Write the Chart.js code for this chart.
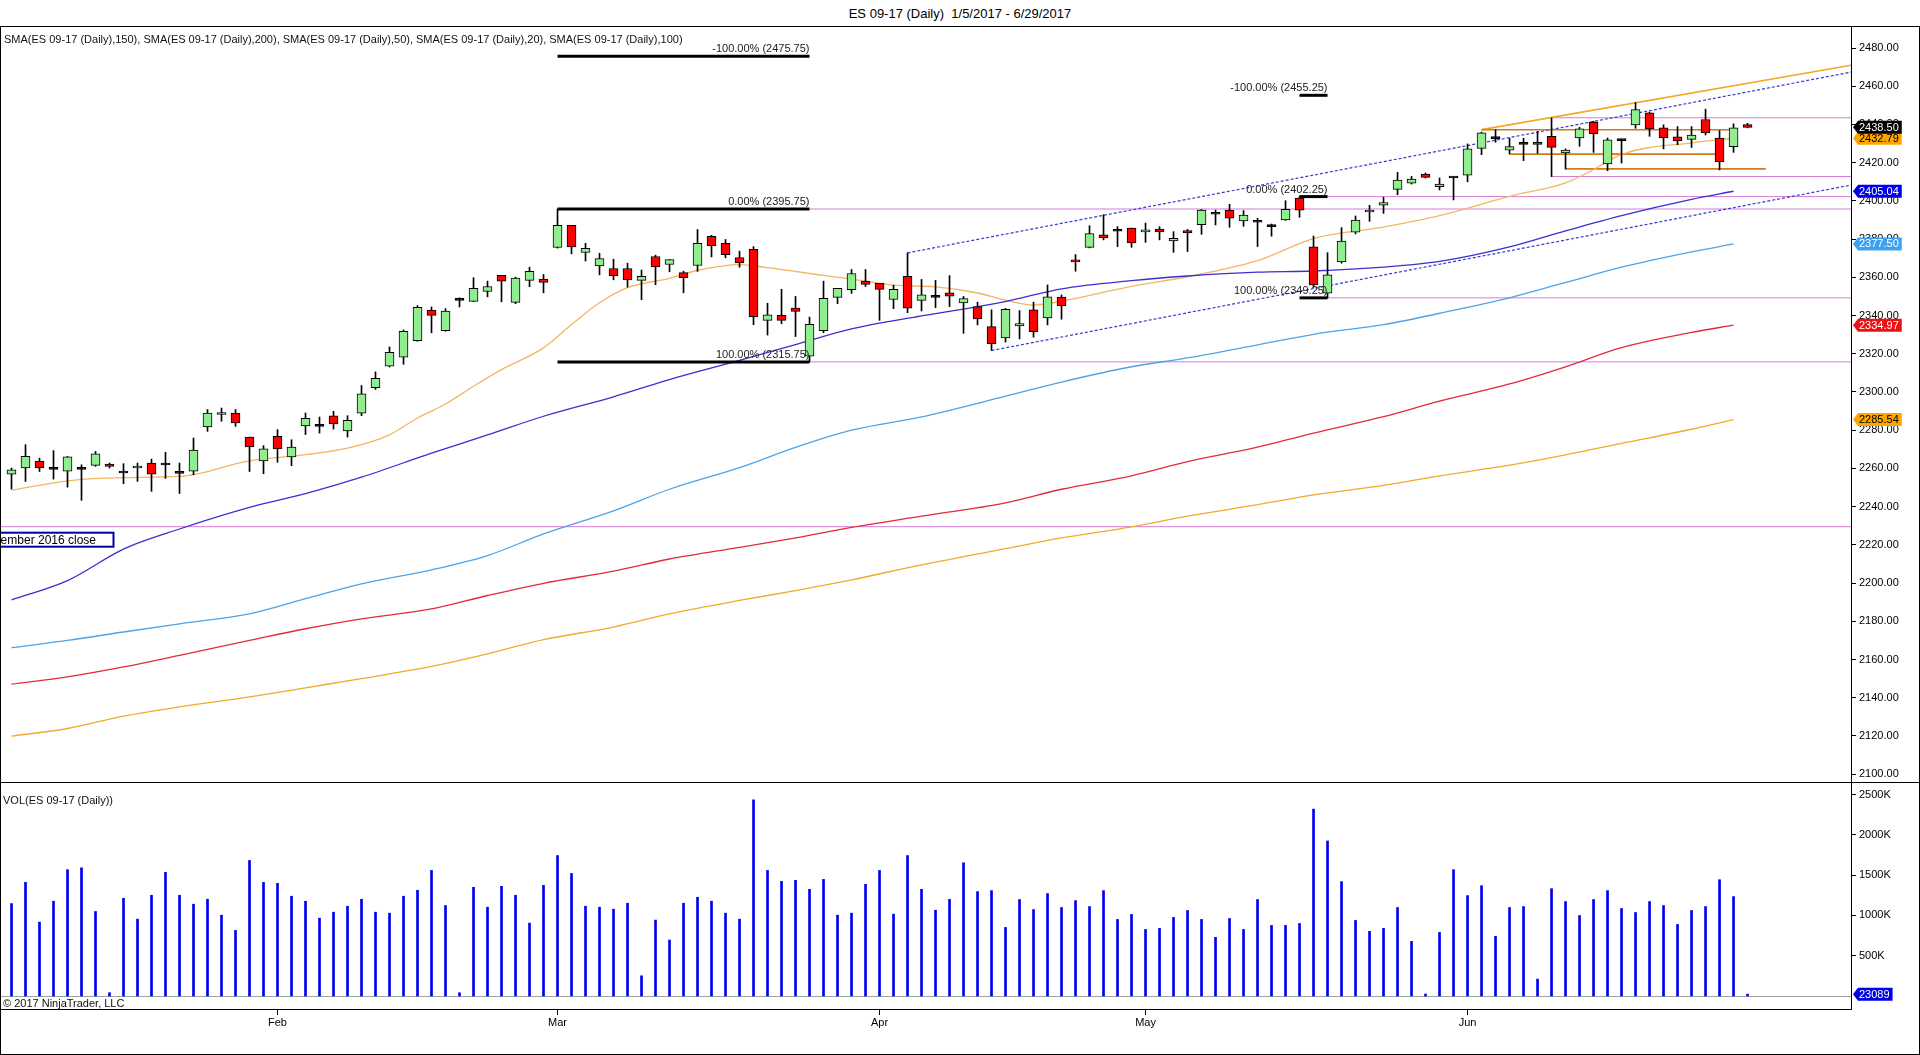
<!DOCTYPE html>
<html>
<head>
<meta charset="utf-8">
<script src="https://cdn.jsdelivr.net/npm/chart.js@4.4.1/dist/chart.umd.min.js"></script>
<style>
html, body { margin: 0; padding: 0; background: #fff; }
body { width: 1920px; height: 1055px; overflow: hidden; position: relative;
       font-family: "Liberation Sans", Arial, sans-serif; color: #000; }
.abs { position: absolute; }
.txt { font-size: 11px; line-height: 13px; white-space: nowrap; color: #111; }
#title { left: 0; top: 6px; width: 1920px; text-align: center; font-size: 13px; line-height: 15px; }
#frame { left: 0; top: 26px; width: 1920px; height: 1029px; box-sizing: border-box;
         border: 1px solid #000; pointer-events: none; }
#sep { left: 0; top: 782px; width: 1920px; height: 1px; background: #000; }
</style>
</head>
<body>
<div id="title" class="abs">ES 09-17 (Daily)&nbsp; 1/5/2017 - 6/29/2017</div>
<div class="abs" style="left:0;top:27px"><canvas id="priceChart" width="1920" height="755"></canvas></div>
<div class="abs" style="left:0;top:783px"><canvas id="volChart" width="1920" height="271"></canvas></div>
<div id="frame" class="abs"></div>
<div id="sep" class="abs"></div>
<div class="abs txt" style="left:4px;top:33px">SMA(ES 09-17 (Daily),150), SMA(ES 09-17 (Daily),200), SMA(ES 09-17 (Daily),50), SMA(ES 09-17 (Daily),20), SMA(ES 09-17 (Daily),100)</div>
<div class="abs txt" style="left:3px;top:794px">VOL(ES 09-17 (Daily))</div>
<div class="abs txt" style="left:3px;top:997px">&copy; 2017 NinjaTrader, LLC</div>

<script>
// ---- daily bars, 1/5/2017 .. 6/29/2017 (bar index 0..124) ----
const opens = [
  2257.0, 2260.2, 2263.9, 2259.5, 2258.6, 2259.5, 2261.6, 2262.3, 2257.6, 2260.2,
  2262.8, 2261.8, 2257.4, 2258.6, 2281.7, 2288.2, 2289.0, 2276.4, 2263.9, 2276.8,
  2266.0, 2282.2, 2282.0, 2287.5, 2279.6, 2288.9, 2302.2, 2313.5, 2318.2, 2326.9,
  2342.9, 2332.1, 2347.9, 2347.4, 2352.6, 2361.0, 2346.9, 2358.4, 2359.1, 2375.6,
  2387.2, 2373.0, 2366.0, 2364.6, 2364.6, 2358.4, 2370.9, 2366.7, 2362.5, 2366.2,
  2381.5, 2377.8, 2370.4, 2374.7, 2337.5, 2340.1, 2343.9, 2318.7, 2332.1, 2349.5,
  2353.5, 2358.0, 2356.8, 2348.4, 2360.5, 2347.9, 2349.5, 2351.9, 2346.6, 2344.7,
  2334.2, 2328.3, 2334.6, 2343.0, 2338.8, 2349.6, 2369.1, 2375.7, 2382.2, 2384.1,
  2385.8, 2383.7, 2385.3, 2379.0, 2384.4, 2387.6, 2393.0, 2395.2, 2389.5, 2388.8,
  2386.5, 2390.0, 2401.5, 2375.9, 2351.7, 2368.0, 2383.6, 2394.2, 2397.8, 2406.0,
  2409.3, 2414.0, 2407.4, 2412.0, 2413.5, 2427.5, 2432.6, 2426.5, 2429.6, 2430.7,
  2433.8, 2425.1, 2433.0, 2441.3, 2419.3, 2431.5, 2439.8, 2446.1, 2438.2, 2433.5,
  2432.2, 2442.6, 2432.9, 2428.4, 2439.9
];
const highs = [
  2260.2, 2272.4, 2265.4, 2269.3, 2266.3, 2261.9, 2268.9, 2262.8, 2262.5, 2262.8,
  2264.9, 2268.4, 2262.8, 2275.9, 2290.8, 2291.6, 2290.8, 2276.4, 2271.9, 2280.3,
  2275.0, 2289.0, 2286.9, 2289.9, 2287.6, 2303.4, 2310.5, 2323.6, 2332.5, 2345.2,
  2344.5, 2343.6, 2349.3, 2359.8, 2358.0, 2361.0, 2360.1, 2365.3, 2361.5, 2395.75,
  2387.2, 2377.8, 2372.6, 2369.5, 2367.4, 2363.8, 2371.6, 2369.3, 2363.2, 2385.0,
  2382.0, 2379.8, 2373.7, 2376.1, 2346.4, 2353.7, 2350.0, 2339.2, 2358.0, 2354.2,
  2364.1, 2364.1, 2356.8, 2355.9, 2372.8, 2358.9, 2358.4, 2360.9, 2350.0, 2347.0,
  2343.0, 2343.7, 2342.6, 2347.0, 2356.0, 2350.8, 2371.9, 2387.0, 2392.8, 2386.5,
  2385.8, 2388.4, 2386.5, 2383.9, 2385.1, 2395.5, 2395.2, 2398.2, 2394.9, 2390.9,
  2387.9, 2400.1, 2402.25, 2381.6, 2372.9, 2386.0, 2392.1, 2397.7, 2401.9, 2414.9,
  2412.8, 2414.6, 2412.0, 2412.6, 2429.8, 2436.0, 2437.3, 2432.8, 2432.8, 2436.3,
  2443.4, 2427.2, 2438.5, 2441.7, 2432.9, 2432.2, 2451.5, 2446.5, 2439.8, 2438.9,
  2438.9, 2448.0, 2436.8, 2440.3, 2440.6
];
const lows = [
  2249.2, 2253.2, 2258.4, 2254.4, 2250.2, 2243.3, 2261.1, 2260.2, 2252.0, 2253.2,
  2248.0, 2254.8, 2246.9, 2256.7, 2279.4, 2284.7, 2282.0, 2258.4, 2257.2, 2263.2,
  2261.4, 2277.7, 2278.5, 2280.6, 2276.4, 2287.6, 2301.3, 2313.1, 2314.5, 2326.5,
  2331.0, 2331.8, 2344.5, 2347.4, 2349.8, 2347.2, 2346.2, 2355.1, 2351.9, 2375.3,
  2372.3, 2368.5, 2361.3, 2358.7, 2354.9, 2348.3, 2356.1, 2362.9, 2351.9, 2363.1,
  2370.7, 2370.2, 2365.3, 2335.2, 2329.8, 2335.7, 2329.0, 2315.75, 2331.0, 2346.2,
  2351.6, 2355.2, 2337.5, 2343.6, 2341.5, 2342.4, 2344.1, 2344.7, 2330.7, 2335.1,
  2321.7, 2326.1, 2327.8, 2328.7, 2335.1, 2338.1, 2363.2, 2375.4, 2379.6, 2376.1,
  2375.7, 2378.3, 2379.6, 2373.1, 2373.5, 2382.5, 2387.4, 2386.2, 2386.7, 2376.1,
  2381.5, 2389.8, 2391.4, 2354.8, 2349.25, 2367.4, 2382.7, 2389.3, 2393.5, 2403.2,
  2408.8, 2412.0, 2405.7, 2400.5, 2410.0, 2424.2, 2430.7, 2424.6, 2421.1, 2424.9,
  2412.7, 2416.7, 2428.6, 2425.4, 2415.8, 2419.8, 2438.0, 2433.8, 2427.2, 2429.4,
  2428.0, 2434.5, 2416.2, 2425.4, 2438.2
];
const closes = [
  2259.3, 2266.3, 2260.2, 2259.5, 2266.0, 2259.5, 2267.7, 2261.1, 2257.6, 2261.2,
  2257.0, 2261.8, 2257.4, 2269.6, 2289.0, 2289.2, 2283.8, 2271.2, 2270.2, 2270.2,
  2271.2, 2286.2, 2282.0, 2283.3, 2285.2, 2299.0, 2307.1, 2320.8, 2331.8, 2344.3,
  2340.1, 2342.4, 2347.9, 2354.2, 2355.2, 2358.0, 2359.6, 2363.1, 2357.3, 2387.2,
  2375.9, 2375.2, 2369.8, 2360.8, 2358.7, 2360.5, 2365.5, 2369.3, 2359.8, 2377.8,
  2376.6, 2371.9, 2367.6, 2339.4, 2340.4, 2337.5, 2342.2, 2335.4, 2349.0, 2354.2,
  2362.0, 2356.3, 2353.7, 2353.7, 2343.8, 2350.9, 2349.5, 2350.1, 2348.9, 2338.3,
  2325.2, 2343.2, 2335.8, 2331.5, 2349.8, 2345.1, 2368.0, 2382.9, 2380.6, 2384.1,
  2378.0, 2384.8, 2383.7, 2380.4, 2383.2, 2395.2, 2393.0, 2391.0, 2392.6, 2388.8,
  2386.5, 2395.6, 2395.2, 2356.0, 2361.3, 2379.0, 2390.0, 2395.2, 2399.1, 2410.9,
  2411.4, 2412.3, 2408.8, 2412.0, 2427.2, 2435.6, 2432.6, 2428.4, 2429.6, 2429.6,
  2428.0, 2426.6, 2437.7, 2435.0, 2431.9, 2431.5, 2447.8, 2437.7, 2432.9, 2431.4,
  2434.5, 2435.6, 2420.4, 2438.2, 2438.50
];
// volume in thousands of contracts (last bar = 23089)
const volumeK = [
  1147, 1410, 917, 1176, 1567, 1591, 1049, 41, 1213, 954,
  1250, 1534, 1250, 1139, 1201, 1003, 814, 1682, 1410, 1398,
  1238, 1176, 966, 1040, 1114, 1201, 1040, 1028, 1238, 1312,
  1558, 1123, 41, 1349, 1102, 1361, 1250, 905, 1373, 1743,
  1521, 1114, 1102, 1077, 1151, 251, 942, 695, 1151, 1225,
  1176, 1028, 954, 2434, 1558, 1423, 1435, 1324, 1447, 1003,
  1028, 1386, 1558, 1016, 1743, 1324, 1065, 1199, 1653, 1295,
  1308, 851, 1197, 1073, 1271, 1098, 1184, 1110, 1308, 950,
  1012, 826, 839, 975, 1061, 950, 728, 962, 826, 1197,
  876, 876, 900, 2319, 1924, 1419, 938, 802, 839, 1098,
  678, 25, 789, 1567, 1246, 1369, 740, 1098, 1110, 210,
  1332, 1172, 999, 1197, 1308, 1086, 1036, 1172, 1123, 888,
  1061, 1110, 1443, 1234, 23.089
];

// ---- moving averages at these bar indexes ----
const sma20Idx = [0, 4, 8, 12, 17, 21, 24, 27, 29, 31, 33, 35, 38, 40, 42, 44, 47, 49, 52, 54,
                  58, 61, 63, 66, 69, 71, 73, 75, 80, 84, 89, 93, 98, 102, 107, 111, 113, 115, 120, 123];
const sma20 = [2248.6, 2253.5, 2255.2, 2255.8, 2263.9, 2267.2, 2270.6, 2277.6, 2286.4, 2293.7,
               2303.0, 2311.7, 2323.1, 2335.3, 2346.7, 2354.6, 2359.5, 2363.7, 2366.7, 2365.1,
               2361.0, 2358.0, 2355.9, 2355.0, 2351.8, 2348.0, 2345.5, 2347.5, 2355.3, 2360.3,
               2368.7, 2380.3, 2386.3, 2392.3, 2402.4, 2409.4, 2416.4, 2424.4, 2430.4, 2432.79];
const smaIdx = [0, 4, 8, 12, 17, 21, 25, 30, 34, 38, 43, 47, 52, 56, 60, 65, 71, 75, 80, 84,
                89, 93, 98, 102, 107, 111, 115, 120, 123];
const sma50 = [2191.2, 2201.3, 2217.8, 2228.3, 2239.6, 2246.8, 2255.4, 2268.0, 2277.5, 2287.3,
               2297.5, 2306.5, 2316.5, 2324.8, 2333.0, 2339.8, 2347.3, 2354.0, 2358.3, 2360.7,
               2362.7, 2363.3, 2365.3, 2368.3, 2375.9, 2384.3, 2392.3, 2400.8, 2405.04];
const sma100 = [2166.2, 2170.0, 2174.4, 2178.7, 2183.9, 2191.8, 2199.6, 2206.9, 2214.4, 2225.7,
                2237.8, 2249.1, 2260.4, 2271.0, 2280.0, 2287.0, 2297.8, 2305.2, 2313.2, 2317.8,
                2324.6, 2330.2, 2335.2, 2341.2, 2349.3, 2357.3, 2365.3, 2373.3, 2377.50];
const sma150 = [2147.1, 2150.9, 2156.1, 2162.2, 2170.0, 2176.1, 2181.3, 2186.5, 2193.5, 2199.9,
                2206.2, 2212.6, 2218.7, 2223.6, 2229.1, 2235.0, 2242.0, 2249.1, 2256.1, 2263.5,
                2271.1, 2278.5, 2287.1, 2295.2, 2304.2, 2313.2, 2323.2, 2331.2, 2334.97];
const sma200 = [2119.9, 2123.9, 2130.4, 2135.2, 2140.4, 2145.2, 2150.0, 2156.4, 2163.0, 2170.4,
                2177.0, 2183.9, 2190.9, 2196.1, 2201.7, 2209.5, 2218.0, 2223.6, 2229.4, 2235.0,
                2241.0, 2246.1, 2251.1, 2256.1, 2261.7, 2267.1, 2273.1, 2280.5, 2285.54];

// ---- drawing objects (bar index, price) ----
const fibPct = ['-100.00%', '0.00%', '100.00%'];
const fibAX = [39, 57];
const fibALevels = [2475.75, 2395.75, 2315.75];
const fibBX = [92, 94];
const fibBLevels = [2455.25, 2402.25, 2349.25];
const decClose = 2229.5;
const pinkLevels = [decClose, 2395.75, 2315.75, 2402.25, 2349.25, 2443.5, 2412.75];
const pinkFrom = [-1, 57, 57, 94, 94, 110, 110];
const rangeLevels = [2437.25, 2424.5, 2416.75];
const rangeFrom = [105, 107, 111];
const rangeTo = [123, 122, 125.3];
const channelUpperX = [64, 131.4], channelUpperY = [2372.8, 2467.4];
const channelLowerX = [70, 131.4], channelLowerY = [2321.7, 2408.3];
const trendX = [105, 131.4], trendY = [2437.3, 2471.0];

// ---- axes ----
const priceTicks = [2100, 2120, 2140, 2160, 2180, 2200, 2220, 2240, 2260, 2280,
                    2300, 2320, 2340, 2360, 2380, 2400, 2420, 2440, 2460, 2480];
const volTicks = [500, 1000, 1500, 2000, 2500];
const monthTickIdx = [19, 39, 62, 81, 104];
const monthTickLabels = ['Feb', 'Mar', 'Apr', 'May', 'Jun'];

const X_MIN = -0.8214, X_MAX = 131.39;
const FONT = '"Liberation Sans", Arial, sans-serif';
const UP = '#90EE90', DOWN = '#FF0000';

Chart.defaults.font.family = FONT;
Chart.defaults.font.size = 11;
Chart.defaults.color = '#000';

const pts = (xs, ys) => xs.map((x, i) => ({ x: x, y: ys[i] }));
const line = (data, color, width, order, extra) => Object.assign({
  type: 'line', data: data, borderColor: color, borderWidth: width, pointRadius: 0,
  fill: false, order: order
}, extra || {});
const hline = (y, x0, x1, color, width, order) => line([{ x: x0, y: y }, { x: x1, y: y }], color, width, order);

const datasets = [];
pinkLevels.forEach((lv, i) => datasets.push(hline(lv, pinkFrom[i], X_MAX, '#D77BD7', 1, 9)));
rangeLevels.forEach((lv, i) => datasets.push(hline(lv, rangeFrom[i], rangeTo[i], '#D2781E', 1.6, 8)));
datasets.push(line(pts(trendX, trendY), '#F5A623', 1.6, 8));
datasets.push(line(pts(channelUpperX, channelUpperY), '#3838D0', 1.2, 8, { borderDash: [3, 2] }));
datasets.push(line(pts(channelLowerX, channelLowerY), '#3838D0', 1.2, 8, { borderDash: [3, 2] }));

const smooth = { cubicInterpolationMode: 'monotone' };
datasets.push(line(pts(smaIdx, sma200), '#F2AA2E', 1.3, 7, smooth));
datasets.push(line(pts(smaIdx, sma150), '#E22B3A', 1.3, 7, smooth));
datasets.push(line(pts(smaIdx, sma100), '#4DA3E8', 1.3, 7, smooth));
datasets.push(line(pts(smaIdx, sma50), '#3A2FCF', 1.3, 7, smooth));
datasets.push(line(pts(sma20Idx, sma20), '#F3B661', 1.3, 7, smooth));

datasets.push({
  type: 'bar', order: 5, grouped: false, barThickness: 1,
  data: opens.map((o, i) => ({ x: i, y: [lows[i], highs[i]] })),
  backgroundColor: '#000', borderWidth: 0
});
datasets.push({
  type: 'bar', order: 4, grouped: false, barThickness: 9, minBarLength: 2,
  data: opens.map((o, i) => ({ x: i, y: [o, closes[i]] })),
  backgroundColor: opens.map((o, i) => closes[i] > o ? UP : (closes[i] < o ? DOWN : '#000')),
  borderColor: '#000', borderWidth: 1, borderSkipped: false
});

fibALevels.forEach(lv => datasets.push(hline(lv, fibAX[0], fibAX[1], '#000', 3, 2)));
fibBLevels.forEach(lv => datasets.push(hline(lv, fibBX[0], fibBX[1], '#000', 3, 2)));

function valueBox(ctx, left, y, text, bg, fg) {
  ctx.font = '11px ' + FONT;
  const w = ctx.measureText(text).width;
  const h = 13;
  ctx.beginPath();
  ctx.moveTo(left, y);
  ctx.lineTo(left + 5, y - h / 2);
  ctx.lineTo(left + 9 + w, y - h / 2);
  ctx.lineTo(left + 9 + w, y + h / 2);
  ctx.lineTo(left + 5, y + h / 2);
  ctx.closePath();
  ctx.fillStyle = bg;
  ctx.fill();
  ctx.fillStyle = fg;
  ctx.textAlign = 'left';
  ctx.textBaseline = 'middle';
  ctx.fillText(text, left + 6, y + 0.5);
}

const priceOverlay = {
  id: 'priceOverlay',
  afterDraw(chart) {
    const { ctx, chartArea } = chart;
    const x = chart.scales.x, y = chart.scales.y;
    ctx.save();
    // fibonacci labels
    ctx.font = '11px ' + FONT;
    ctx.fillStyle = '#222';
    ctx.textAlign = 'right';
    ctx.textBaseline = 'alphabetic';
    fibALevels.forEach((lv, k) =>
      ctx.fillText(fibPct[k] + ' (' + lv.toFixed(2) + ')', x.getPixelForValue(fibAX[1]), y.getPixelForValue(lv) - 4));
    fibBLevels.forEach((lv, k) =>
      ctx.fillText(fibPct[k] + ' (' + lv.toFixed(2) + ')', x.getPixelForValue(fibBX[1]), y.getPixelForValue(lv) - 4));
    // december close label
    const yd = y.getPixelForValue(decClose);
    ctx.fillStyle = '#fff';
    ctx.fillRect(-2, yd + 6, 115.5, 14);
    ctx.lineWidth = 2;
    ctx.strokeStyle = '#0000A0';
    ctx.strokeRect(-2, yd + 6, 115.5, 14);
    ctx.fillStyle = '#000';
    ctx.font = '12px ' + FONT;
    ctx.textBaseline = 'middle';
    ctx.fillText('December 2016 close', 96, yd + 13.5);
    // axis value markers
    const left = chartArea.right + 2;
    const boxes = [
      [sma200[sma200.length - 1], '#FFA500', '#000'],
      [sma150[sma150.length - 1], '#EE1111', '#fff'],
      [sma100[sma100.length - 1], '#3DA0F0', '#fff'],
      [sma50[sma50.length - 1], '#0000E8', '#fff'],
      [sma20[sma20.length - 1], '#FFA500', '#000'],
      [closes[closes.length - 1], '#000', '#fff']
    ];
    boxes.forEach(b => valueBox(ctx, left, y.getPixelForValue(b[0]), b[0].toFixed(2), b[1], b[2]));
    ctx.restore();
  }
};

new Chart(document.getElementById('priceChart'), {
  type: 'bar',
  data: { datasets: datasets },
  options: {
    responsive: false, animation: false, devicePixelRatio: 1,
    layout: { padding: 0 },
    plugins: { legend: { display: false }, tooltip: { enabled: false } },
    scales: {
      x: { type: 'linear', min: X_MIN, max: X_MAX, offset: false, display: false },
      y: {
        position: 'right', min: 2095.9, max: 2491.0,
        afterFit: s => { s.width = 69; s.paddingTop = 0; s.paddingBottom = 0; },
        afterBuildTicks: s => { s.ticks = priceTicks.map(v => ({ value: v })); },
        ticks: { callback: v => Number(v).toFixed(2), padding: 3, color: '#000', font: { size: 11 } },
        grid: { drawOnChartArea: false, drawTicks: true, tickLength: 5, color: '#000' },
        border: { display: true, color: '#000', width: 1 }
      }
    }
  },
  plugins: [priceOverlay]
});

const volOverlay = {
  id: 'volOverlay',
  beforeDatasetsDraw(chart) {
    const { ctx, chartArea } = chart;
    const y0 = Math.round(chart.scales.y.getPixelForValue(0)) + 0.5;
    ctx.save();
    ctx.strokeStyle = '#A0A0A0';
    ctx.lineWidth = 1;
    ctx.beginPath();
    ctx.moveTo(chartArea.left, y0);
    ctx.lineTo(chartArea.right, y0);
    ctx.stroke();
    ctx.restore();
  },
  afterDraw(chart) {
    const { ctx, chartArea } = chart;
    const last = volumeK[volumeK.length - 1];
    ctx.save();
    valueBox(ctx, chartArea.right + 2, chart.scales.y.getPixelForValue(last),
             String(Math.round(last * 1000)), '#0000E8', '#fff');
    ctx.restore();
  }
};

new Chart(document.getElementById('volChart'), {
  type: 'bar',
  data: {
    datasets: [{
      data: volumeK.map((v, i) => ({ x: i, y: v })),
      backgroundColor: '#0000EE', barThickness: 2, borderWidth: 0, grouped: false
    }]
  },
  options: {
    responsive: false, animation: false, devicePixelRatio: 1,
    layout: { padding: 0 },
    plugins: { legend: { display: false }, tooltip: { enabled: false } },
    scales: {
      x: {
        type: 'linear', min: X_MIN, max: X_MAX, offset: false, position: 'bottom',
        afterFit: s => { s.height = 45; },
        afterBuildTicks: s => { s.ticks = monthTickIdx.map(v => ({ value: v })); },
        ticks: {
          autoSkip: false, maxRotation: 0, padding: 1, color: '#000', font: { size: 11 },
          callback: v => monthTickLabels[monthTickIdx.indexOf(v)]
        },
        grid: { offset: false, drawOnChartArea: false, drawTicks: true, tickLength: 6, color: '#000' },
        border: { display: true, color: '#000', width: 1 }
      },
      y: {
        position: 'right', min: -161, max: 2643,
        afterFit: s => { s.width = 69; s.paddingTop = 0; s.paddingBottom = 0; },
        afterBuildTicks: s => { s.ticks = volTicks.map(v => ({ value: v })); },
        ticks: { callback: v => v + 'K', padding: 3, color: '#000', font: { size: 11 } },
        grid: { drawOnChartArea: false, drawTicks: true, tickLength: 5, color: '#000' },
        border: { display: true, color: '#000', width: 1 }
      }
    }
  },
  plugins: [volOverlay]
});
</script>
</body>
</html>
